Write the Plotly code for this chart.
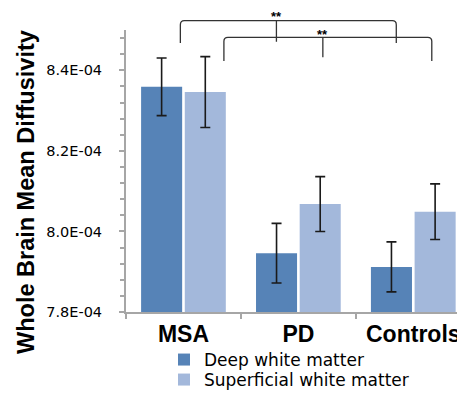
import plotly.graph_objects as go

categories = ["MSA", "PD", "Controls"]
deep_values = [8.359e-4, 7.946e-4, 7.912e-4]
deep_errors = [0.0715e-4, 0.074e-4, 0.062e-4]
superficial_values = [8.346e-4, 8.068e-4, 8.049e-4]
superficial_errors = [0.088e-4, 0.068e-4, 0.069e-4]
series_names = ["Deep white matter", "Superficial white matter"]
ytick_values = [7.8e-4, 8.0e-4, 8.2e-4, 8.4e-4]
ytick_labels = ["7.8E-04", "8.0E-04", "8.2E-04", "8.4E-04"]
y_title = "Whole Brain Mean Diffusivity"
sig_label = "**"

# page geometry (the page body adds an 8px margin around the figure)
PAGE_W, PAGE_H = 465, 395
OFF = 8
PLOT_L, PLOT_R, PLOT_T, PLOT_B = 126, 465, 30, 312
W, H = PAGE_W - OFF, PAGE_H - OFF
ML, MR, MT, MB = PLOT_L - OFF, PAGE_W - PLOT_R, PLOT_T - OFF, PAGE_H - PLOT_B
XR = [-0.5, 2.45]
YR = [7.8e-4, 8.5e-4]

DARK = "#5683B7"
LIGHT = "#A3B8DB"
AXC = "#A6A6A6"


def px_x(p):
    return (p - PLOT_L) / (PLOT_R - PLOT_L)


def px_y(p):
    return (PLOT_B - p) / (PLOT_B - PLOT_T)


def dx(x):
    return PLOT_L + (x - XR[0]) / (XR[1] - XR[0]) * (PLOT_R - PLOT_L)


fig = go.Figure()
fig.add_trace(go.Bar(
    x=categories, y=deep_values, name=series_names[0],
    marker=dict(color=DARK, line=dict(width=0)),
    error_y=dict(type="data", array=deep_errors, color="#1a1a1a", thickness=1.6, width=5),
    legend="legend",
))
fig.add_trace(go.Bar(
    x=categories, y=superficial_values, name=series_names[1],
    marker=dict(color=LIGHT, line=dict(width=0)),
    error_y=dict(type="data", array=superficial_errors, color="#1a1a1a", thickness=1.6, width=5),
    legend="legend2",
))

# significance brackets (pixel geometry -> paper coords)
brackets = [
    # left_x, center_x, right_x (data), top px, leg bottom px, center bottom px, label y px
    (-0.027, 0.809, 1.852, 20.7, 43.0, 41.7, 17.0),
    (0.352, 1.213, 2.161, 37.3, 61.0, 57.3, 34.0),
]
r = 4.0
for lx, cx, rx, top, bot, cbot, ty in brackets:
    L, C, R = dx(lx), dx(cx), dx(rx)
    path = (
        f"M {px_x(L)},{px_y(bot)} L {px_x(L)},{px_y(top + r)} "
        f"Q {px_x(L)},{px_y(top)} {px_x(L + r)},{px_y(top)} "
        f"L {px_x(R - r)},{px_y(top)} "
        f"Q {px_x(R)},{px_y(top)} {px_x(R)},{px_y(top + r)} "
        f"L {px_x(R)},{px_y(bot)} "
        f"M {px_x(C)},{px_y(top)} L {px_x(C)},{px_y(cbot)}"
    )
    fig.add_shape(type="path", path=path, xref="paper", yref="paper",
                  line=dict(color="#333333", width=1.3))
    fig.add_annotation(x=px_x(C), y=px_y(ty), xref="paper", yref="paper",
                       text=f"<b>{sig_label}</b>", showarrow=False,
                       font=dict(family="Liberation Sans", size=13, color="#000000"),
                       xanchor="center", yanchor="middle")

fig.add_annotation(
    x=px_x(26), y=px_y(192), xref="paper", yref="paper",
    text=f"<b>{y_title}</b>", showarrow=False, textangle=-90,
    font=dict(family="Liberation Sans", size=23.5, color="#000000"),
    xanchor="center", yanchor="middle",
)

legend_style = dict(
    xanchor="left", yanchor="middle", xref="paper", yref="paper",
    bgcolor="rgba(0,0,0,0)",
    font=dict(family="DejaVu Sans", size=17, color="#000000"),
    itemclick=False, itemdoubleclick=False,
)

fig.update_layout(
    width=W, height=H,
    margin=dict(l=ML, r=MR, t=MT, b=MB, pad=0, autoexpand=False),
    paper_bgcolor="white", plot_bgcolor="white",
    barmode="group", bargap=0.24, bargroupgap=0.06,
    font=dict(family="DejaVu Sans", color="#000000"),
    legend=dict(x=px_x(164), y=px_y(360), **legend_style),
    legend2=dict(x=px_x(164), y=px_y(380), **legend_style),
    xaxis=dict(
        range=XR, showline=True, linecolor=AXC, linewidth=2,
        ticks="outside", tickson="boundaries", ticklen=5, tickwidth=1.5, tickcolor=AXC,
        showgrid=False, zeroline=False, automargin=False, ticklabelstandoff=0,
        tickfont=dict(family="Liberation Sans", size=23, color="#000000", weight="bold"),
    ),
    yaxis=dict(
        range=YR, showline=True, linecolor=AXC, linewidth=2,
        tickvals=ytick_values, ticktext=ytick_labels,
        ticks="outside", ticklen=5, tickwidth=1.5, tickcolor=AXC,
        minor=dict(dtick=0.04e-4, tick0=7.8e-4, ticks="outside", ticklen=4,
                   tickwidth=1.5, tickcolor=AXC, showgrid=False),
        showgrid=False, zeroline=False, ticklabelstandoff=14, automargin=False,
        tickfont=dict(family="DejaVu Sans", size=14.5, color="#000000"),
    ),
    showlegend=True,
)

fig.write_html("out.html")
